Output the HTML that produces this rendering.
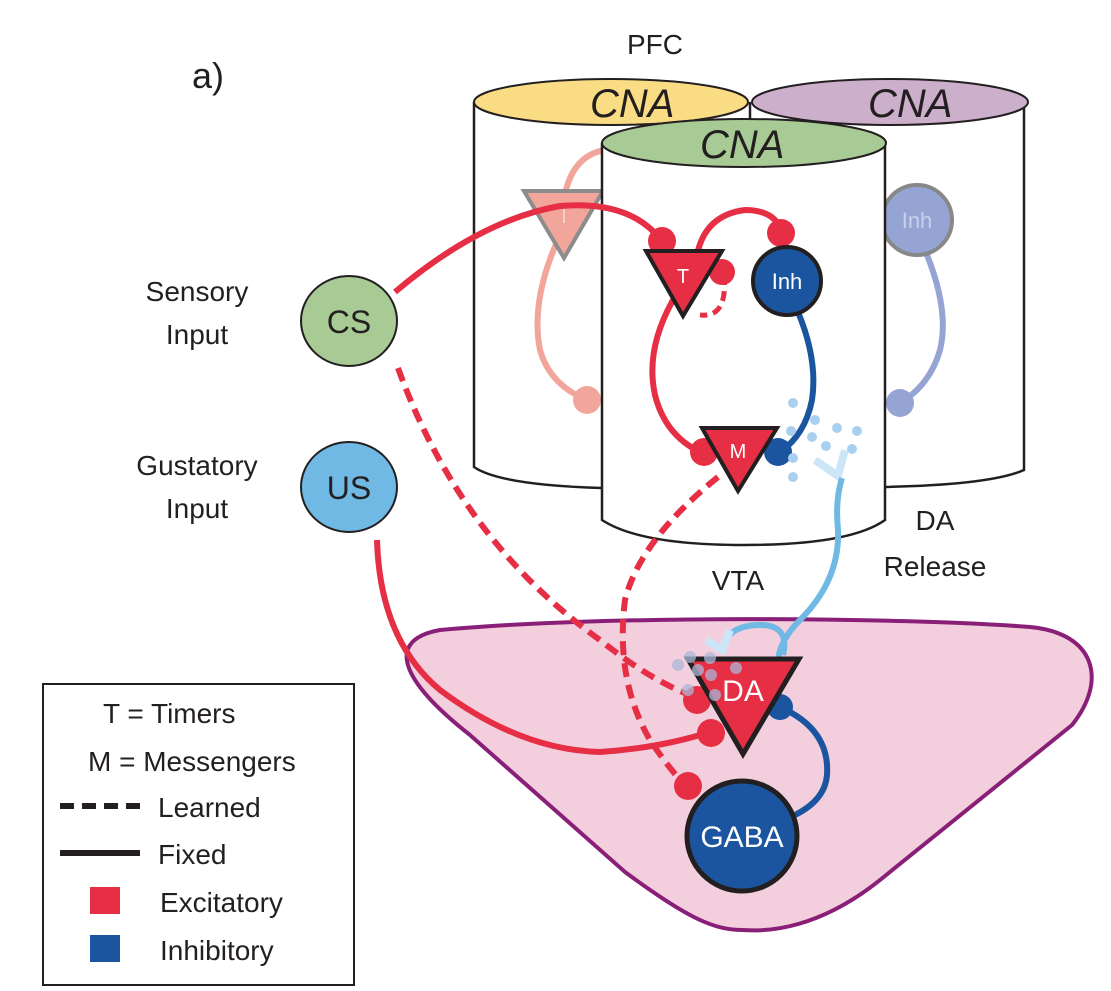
<!DOCTYPE html>
<html><head><meta charset="utf-8"><style>
html,body{margin:0;padding:0;background:#fff;}
svg{display:block;}
text{font-family:"Liberation Sans",sans-serif;}
</style></head><body>
<svg width="1111" height="991" viewBox="0 0 1111 991" xmlns="http://www.w3.org/2000/svg">
<!-- VTA blob -->
<path d="M440,630 C600,615 900,617 1030,627 C1095,633 1108,680 1072,725 L880,880 C820,928 770,932 743,930 C715,930 690,920 625,872 L470,735 C400,680 385,640 440,630 Z" fill="#f3cfde" stroke="#8a1f77" stroke-width="4"/>
<!-- yellow cylinder -->
<rect x="475" y="102" width="272" height="384" fill="#fff"/>
<path d="M474,102 L474,467 Q500,485 602,488" fill="none" stroke="#231f20" stroke-width="2.5"/>
<!-- purple cylinder -->
<rect x="752" y="102" width="272" height="385" fill="#fff"/>
<path d="M1024,102 L1024,470 Q990,485 882,487" fill="none" stroke="#231f20" stroke-width="2.5"/>
<line x1="750" y1="102" x2="750" y2="120" stroke="#231f20" stroke-width="2.5"/>
<ellipse cx="611" cy="102" rx="137" ry="23" fill="#f9dc84" stroke="#231f20" stroke-width="2"/>
<ellipse cx="890" cy="102" rx="138" ry="23" fill="#ccafcb" stroke="#231f20" stroke-width="2"/>
<text x="590" y="117" font-size="40" font-style="italic" fill="#231f20">CNA</text>
<text x="868" y="117" font-size="40" font-style="italic" fill="#231f20">CNA</text>
<!-- faded circuits -->
<path d="M605,150 Q575,155 566,190" fill="none" stroke="#f2a59a" stroke-width="6"/>
<path d="M560,235 Q530,300 540,350 Q550,385 587,400" fill="none" stroke="#f2a59a" stroke-width="6"/>
<circle cx="587" cy="400" r="14" fill="#f2a59a"/>
<polygon points="524,191 603,191 564,258" fill="#f2a59a" stroke="#8c8c8c" stroke-width="4"/>
<text x="564" y="223" font-size="20" fill="#f8d0c8" text-anchor="middle">I</text>
<path d="M925,250 Q950,310 940,350 Q930,385 900,403" fill="none" stroke="#95a4d2" stroke-width="6"/>
<circle cx="900" cy="403" r="14" fill="#95a4d2"/>
<circle cx="917" cy="220" r="35" fill="#95a4d2" stroke="#888" stroke-width="4"/>
<text x="917" y="228" font-size="22" fill="#c8d0ec" text-anchor="middle">Inh</text>
<!-- green cylinder -->
<rect x="602" y="143" width="283" height="385" fill="#fff"/>
<path d="M602,143 L602,520 Q640,545 744,545 Q850,545 885,520 L885,143" fill="#fff" stroke="#231f20" stroke-width="2.5"/>
<ellipse cx="744" cy="143" rx="142" ry="24" fill="#a8cb95" stroke="#231f20" stroke-width="2"/>
<text x="700" y="158" font-size="40" font-style="italic" fill="#231f20">CNA</text>
<!-- red CS to T -->
<path d="M395,292 Q480,220 560,206 Q630,200 661,240" fill="none" stroke="#e62f44" stroke-width="6"/>
<circle cx="662" cy="241" r="14" fill="#e62f44"/>
<path d="M697,255 Q705,215 745,210 Q775,210 782,232" fill="none" stroke="#e62f44" stroke-width="6"/>
<circle cx="781" cy="233" r="14" fill="#e62f44"/>
<path d="M724,275 Q728,318 700,315" fill="none" stroke="#e62f44" stroke-width="5" stroke-dasharray="10,6"/>
<circle cx="722" cy="272" r="13" fill="#e62f44"/>
<path d="M673,300 Q645,350 655,395 Q665,435 700,452" fill="none" stroke="#e62f44" stroke-width="6"/>
<circle cx="704" cy="452" r="14" fill="#e62f44"/>
<path d="M798,312 Q818,360 812,400 Q805,435 780,452" fill="none" stroke="#1b55a0" stroke-width="6"/>
<circle cx="778" cy="452" r="14" fill="#1b55a0"/>
<polygon points="646,251 722,251 683,316" fill="#e62f44" stroke="#231f20" stroke-width="4"/>
<text x="683" y="283" font-size="20" fill="#fff" text-anchor="middle">T</text>
<circle cx="787" cy="281" r="34" fill="#1b55a0" stroke="#231f20" stroke-width="4"/>
<text x="787" y="289" font-size="22" fill="#fff" text-anchor="middle">Inh</text>
<polygon points="702,428 777,428 738,491" fill="#e62f44" stroke="#231f20" stroke-width="4"/>
<text x="738" y="458" font-size="20" fill="#fff" text-anchor="middle">M</text>
<g fill="#a9d0ee">
<circle cx="793" cy="403" r="5"/><circle cx="815" cy="420" r="5"/><circle cx="837" cy="428" r="5"/><circle cx="857" cy="431" r="5"/><circle cx="812" cy="437" r="5"/><circle cx="826" cy="446" r="5"/><circle cx="852" cy="449" r="5"/><circle cx="793" cy="458" r="5"/><circle cx="793" cy="477" r="5"/><circle cx="791" cy="431" r="5"/>
</g>
<path d="M815,460 L838,476 L845,450" fill="none" stroke="#cde6f7" stroke-width="8"/>
<path d="M842,478 Q835,500 838,530 Q840,580 800,620 Q780,640 778,660" fill="none" stroke="#6fb9e4" stroke-width="6"/>
<path d="M783,655 Q790,625 760,625 Q735,625 725,640" fill="none" stroke="#6fb9e4" stroke-width="6"/>
<path d="M706,640 L722,650 L730,630" fill="none" stroke="#cde6f7" stroke-width="8"/>
<path d="M398,368 Q460,540 600,640 Q650,680 690,695" fill="none" stroke="#e62f44" stroke-width="6" stroke-dasharray="14,8"/>
<path d="M718,477 Q640,540 625,600 Q615,680 650,740 Q670,770 685,785" fill="none" stroke="#e62f44" stroke-width="6" stroke-dasharray="14,8"/>
<path d="M377,540 Q380,640 440,690 Q520,750 600,752 Q660,748 710,732" fill="none" stroke="#e62f44" stroke-width="6"/>
<circle cx="697" cy="700" r="14" fill="#e62f44"/>
<circle cx="711" cy="733" r="14" fill="#e62f44"/>
<circle cx="688" cy="786" r="14" fill="#e62f44"/>
<path d="M782,708 Q830,730 827,775 Q825,800 795,815" fill="none" stroke="#1b55a0" stroke-width="6"/>
<circle cx="780" cy="707" r="13" fill="#1b55a0"/>
<polygon points="688,659 799,659 743,754" fill="#e62f44" stroke="#231f20" stroke-width="5"/>
<g fill="#aab8d8" opacity="0.75"><circle cx="678" cy="665" r="6"/><circle cx="690" cy="657" r="6"/><circle cx="710" cy="658" r="6"/><circle cx="698" cy="670" r="6"/><circle cx="711" cy="675" r="6"/><circle cx="736" cy="668" r="6"/><circle cx="688" cy="690" r="6"/><circle cx="715" cy="695" r="6"/></g>
<text x="743" y="701" font-size="30" fill="#fff" text-anchor="middle">DA</text>
<circle cx="742" cy="836" r="55" fill="#1b55a0" stroke="#231f20" stroke-width="5"/>
<text x="742" y="847" font-size="30" fill="#fff" text-anchor="middle">GABA</text>
<ellipse cx="349" cy="321" rx="48" ry="45" fill="#a8cb95" stroke="#231f20" stroke-width="2"/>
<text x="349" y="333" font-size="32" fill="#231f20" text-anchor="middle">CS</text>
<ellipse cx="349" cy="487" rx="48" ry="45" fill="#6fb9e4" stroke="#231f20" stroke-width="2"/>
<text x="349" y="499" font-size="32" fill="#231f20" text-anchor="middle">US</text>
<text x="192" y="88" font-size="36" fill="#231f20">a)</text>
<text x="655" y="54" font-size="28" fill="#231f20" text-anchor="middle">PFC</text>
<text x="197" y="301" font-size="28" fill="#231f20" text-anchor="middle">Sensory</text>
<text x="197" y="344" font-size="28" fill="#231f20" text-anchor="middle">Input</text>
<text x="197" y="475" font-size="28" fill="#231f20" text-anchor="middle">Gustatory</text>
<text x="197" y="518" font-size="28" fill="#231f20" text-anchor="middle">Input</text>
<text x="935" y="530" font-size="28" fill="#231f20" text-anchor="middle">DA</text>
<text x="935" y="576" font-size="28" fill="#231f20" text-anchor="middle">Release</text>
<text x="738" y="590" font-size="28" fill="#231f20" text-anchor="middle">VTA</text>
<rect x="43" y="684" width="311" height="301" fill="#fff" stroke="#231f20" stroke-width="2"/>
<text x="103" y="723" font-size="28" fill="#231f20">T = Timers</text>
<text x="88" y="771" font-size="28" fill="#231f20">M = Messengers</text>
<line x1="60" y1="806" x2="140" y2="806" stroke="#231f20" stroke-width="6" stroke-dasharray="14,8"/>
<text x="158" y="817" font-size="28" fill="#231f20">Learned</text>
<line x1="60" y1="853" x2="140" y2="853" stroke="#231f20" stroke-width="6"/>
<text x="158" y="864" font-size="28" fill="#231f20">Fixed</text>
<rect x="90" y="887" width="30" height="27" fill="#e62f44"/>
<text x="160" y="912" font-size="28" fill="#231f20">Excitatory</text>
<rect x="90" y="935" width="30" height="27" fill="#1b55a0"/>
<text x="160" y="960" font-size="28" fill="#231f20">Inhibitory</text>
</svg>
</body></html>
